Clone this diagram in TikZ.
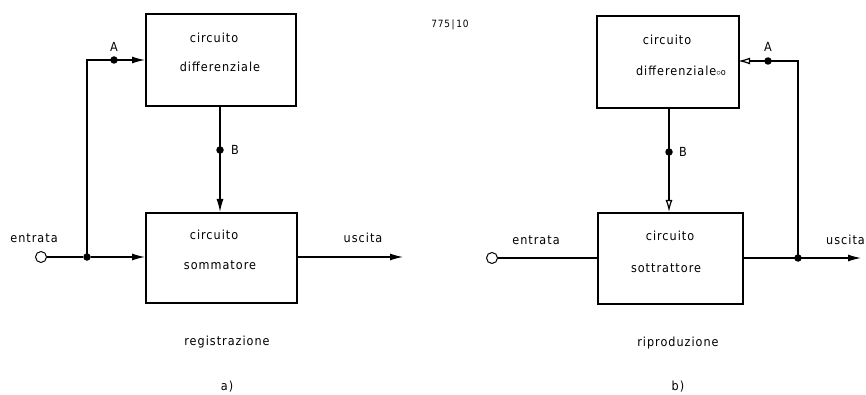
\documentclass[tikz,border=0pt]{standalone}
\usepackage{fontspec}
\setmainfont{DejaVu Sans Condensed}[LetterSpace=8]
\usetikzlibrary{arrows.meta}
\begin{document}
\begin{tikzpicture}[x=1pt,y=-1pt,
  blk/.style={draw,line width=2pt,inner sep=0pt,anchor=north west},
  wire/.style={line width=1.2pt},
  arr/.style={wire,-{Latex[length=13pt,width=7pt]}},
  oarr/.style={wire,-{Latex[open,length=12pt,width=7pt]}},
  dotn/.style={circle,fill,inner sep=0pt,minimum size=7.5pt},
  term/.style={circle,draw,line width=1pt,fill=white,inner sep=0pt,minimum size=11pt},
  lbl/.style={font=\fontsize{12.5}{14}\selectfont,inner sep=0pt},
]
\useasboundingbox (0,0) rectangle (866,395);
% ---------- a) ----------
\node[blk,minimum width=150pt,minimum height=92pt] (d1) at (145,13) {};
\node[blk,minimum width=151pt,minimum height=90pt] (s1) at (145,212) {};
\node[lbl] at (214,38) {circuito};
\node[lbl] at (220,67) {differenziale};
\node[lbl] at (214,235) {circuito};
\node[lbl] at (220,265) {sommatore};
\node[term] (in1) at (41,257) {};
\node[lbl] at (34,238) {entrata};
\node[dotn] (j1) at (87,257) {};
\coordinate (c1) at (87,60);
\node[dotn] (a1) at (114,60) {};
\node[lbl] at (114,47) {A};
\coordinate (d1w) at (145,60);
\coordinate (s1w) at (145,257);
\draw[wire] (in1) -- (j1);
\draw[arr] (j1) -- (s1w);
\draw[wire] (j1.center) -- (c1) -- (a1.center);
\draw[arr] (a1.center) -- (d1w);
\coordinate (d1s) at (220,105);
\coordinate (s1n) at (220,212);
\node[dotn] (b1) at (220,150) {};
\node[lbl] at (235,150) {B};
\draw[wire] (d1s) -- (b1.center);
\draw[arr] (b1.center) -- (s1n);
\coordinate (s1e) at (296,257);
\coordinate (o1) at (403,257);
\draw[arr] (s1e) -- (o1);
\node[lbl] at (363,238) {uscita};
\node[lbl] at (227,342) {registrazione};
\node[lbl] at (227,387) {a)};
% ---------- b) ----------
\node[lbl,font=\fontsize{10}{11}\selectfont] at (450,25) {775\,|\,10};
\node[blk,minimum width=142pt,minimum height=92pt] (d2) at (596,15) {};
\node[blk,minimum width=145pt,minimum height=91pt] (s2) at (597,212) {};
\node[lbl] at (667,40) {circuito};
\node[lbl] at (681,71) {differenziale{\fontsize{9}{10}\selectfont$\circ$o}};
\node[lbl] at (670,236) {circuito};
\node[lbl] at (666,268) {sottrattore};
\node[term] (in2) at (492,258) {};
\node[lbl] at (536,240) {entrata};
\coordinate (s2w) at (597,258);
\draw[wire] (in2) -- (s2w);
\coordinate (d2s) at (669,107);
\coordinate (s2n) at (669,212);
\node[dotn] (b2) at (669,152) {};
\node[lbl] at (683,152) {B};
\draw[wire] (d2s) -- (b2.center);
\draw[oarr] (b2.center) -- (s2n);
\coordinate (s2e) at (742,258);
\node[dotn] (j2) at (798,258) {};
\coordinate (o2) at (861,258);
\draw[wire] (s2e) -- (j2.center);
\draw[arr] (j2.center) -- (o2);
\node[lbl,anchor=east] at (865,240) {uscita};
\coordinate (c2) at (798,61);
\node[dotn] (a2) at (768,61) {};
\node[lbl] at (768,47) {A};
\coordinate (d2e) at (738,61);
\draw[wire] (j2.center) -- (c2) -- (a2.center);
\draw[oarr] (a2.center) -- (d2e);
\node[lbl] at (678,343) {riproduzione};
\node[lbl] at (678,387) {b)};
\end{tikzpicture}
\end{document}
